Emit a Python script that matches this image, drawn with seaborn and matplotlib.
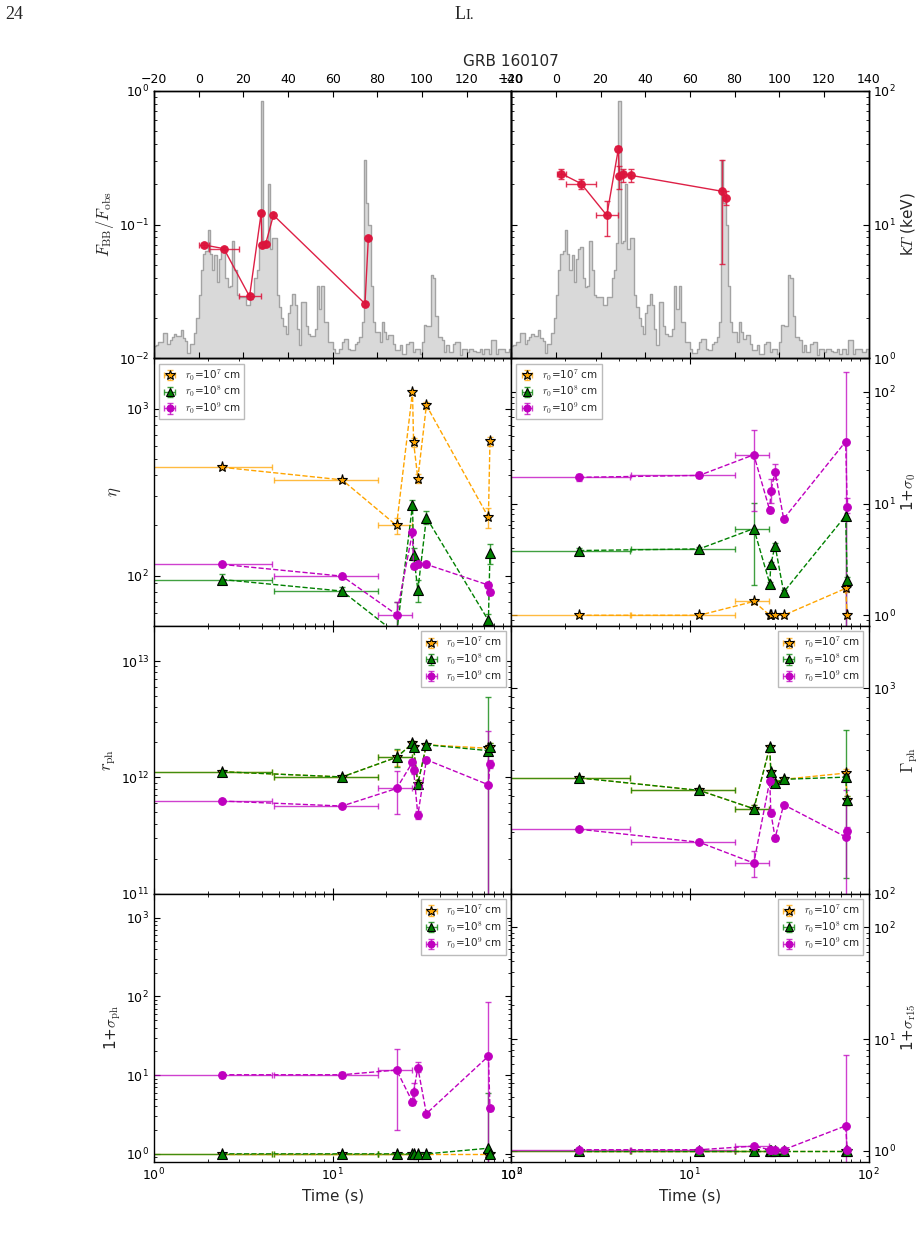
import numpy as np
import pandas as pd
import matplotlib
matplotlib.use("Agg")
import matplotlib.pyplot as plt
import matplotlib.lines as mlines
from matplotlib.ticker import MultipleLocator, NullFormatter
import seaborn as sns

# ---------------- data ----------------
# time bins (s): centres and bin edges
t_mid = [2.4, 11.3, 22.8, 28.0, 28.4, 30.0, 33.5, 74.5, 76.0]
t_lo = [0.3, 4.7, 18.0, 27.8, 28.2, 29.7, 33.2, 74.3, 75.8]
t_hi = [4.6, 18.0, 27.8, 28.2, 28.6, 30.3, 33.8, 74.7, 76.2]

# light curve (arbitrary units, 1 s bins from -20 s to 140 s)
lc_start, lc_stop = -20, 140
lc_counts = [
    0.045, 0.05, 0.06, 0.06, 0.095, 0.095, 0.055, 0.07, 0.08, 0.092,
    0.085, 0.085, 0.105, 0.075, 0.065, 0.02, 0.055, 0.055, 0.095, 0.15,
    0.235, 0.33, 0.39, 0.40, 0.478, 0.39, 0.33, 0.385, 0.285, 0.37,
    0.41, 0.415, 0.30, 0.265, 0.27, 0.44, 0.33, 0.235, 0.23, 0.23,
    0.23, 0.20, 0.20, 0.23, 0.23, 0.30, 0.33, 0.43, 0.96, 0.43,
    0.44, 0.65, 0.41, 0.45, 0.45, 0.235, 0.19, 0.15, 0.12, 0.09,
    0.17, 0.20, 0.24, 0.20, 0.11, 0.05, 0.21, 0.21, 0.12, 0.09,
    0.085, 0.085, 0.11, 0.27, 0.185, 0.27, 0.135, 0.135, 0.06, 0.06,
    0.036, 0.02, 0.02, 0.036, 0.06, 0.073, 0.073, 0.036, 0.03, 0.03,
    0.055, 0.06, 0.08, 0.135, 0.74, 0.58, 0.50, 0.27, 0.135, 0.10,
    0.10, 0.06, 0.135, 0.10, 0.073, 0.086, 0.086, 0.055, 0.03, 0.03,
    0.049, 0.017, 0.017, 0.055, 0.06, 0.06, 0.024, 0.036, 0.036, 0.017,
    0.06, 0.126, 0.12, 0.12, 0.31, 0.30, 0.16, 0.08, 0.08, 0.067,
    0.024, 0.049, 0.024, 0.024, 0.055, 0.06, 0.06, 0.011, 0.036, 0.036,
    0.024, 0.034, 0.034, 0.026, 0.024, 0.024, 0.036, 0.017, 0.036, 0.036,
    0.017, 0.067, 0.067, 0.017, 0.036, 0.036, 0.036, 0.024, 0.024, 0.036,
]

# F_BB / F_obs
fbb = [0.0704, 0.066, 0.029, 0.122, 0.0708, 0.0716, 0.1175, 0.0256, 0.0794]
fbb_lo = [0.0680, 0.0640, 0.0280, 0.1180, 0.0685, 0.0692, 0.1135, 0.0247, 0.0768]
fbb_hi = [0.0728, 0.0680, 0.0300, 0.1260, 0.0731, 0.0740, 0.1215, 0.0265, 0.0820]

# kT (keV)
kT = [24.0, 20.2, 11.7, 36.9, 22.9, 24.0, 23.3, 17.7, 15.85]
kT_lo = [21.9, 18.3, 8.2, 35.5, 18.3, 20.7, 20.7, 5.07, 14.0]
kT_hi = [26.0, 21.9, 15.0, 38.5, 27.2, 26.0, 26.0, 30.5, 17.8]

# eta
eta7 = [446, 375, 200, 1259, 628, 382, 1047, 224, 637]
eta7_lo = [435, 366, 179, 1220, 590, 360, 990, 192, 595]
eta7_hi = [458, 385, 221, 1300, 665, 405, 1100, 253, 680]
eta8 = [95, 81, 45, 265, 134, 82, 223, 54, 136]
eta8_lo = [90, 77, 35, 250, 124, 70, 203, 48, 118]
eta8_hi = [102, 86, 70, 285, 146, 94, 245, 59, 156]
eta9 = [117, 99.5, 58.6, 182, 114, 117, 117, 88, 80]
eta9_lo = [113, 96, 45, 175, 110, 113, 113, 84, 77]
eta9_hi = [121, 103, 69.8, 189, 118, 121, 121, 92, 83]

# 1 + sigma_0
s07 = [1.0, 1.0, 1.33, 1.0, 1.0, 1.0, 1.0, 1.74, 1.0]
s07_lo = [0.98, 0.98, 1.26, 0.98, 0.98, 0.98, 0.98, 1.62, 0.95]
s07_hi = [1.02, 1.02, 1.40, 1.02, 1.02, 1.02, 1.02, 1.86, 1.05]
s08 = [3.8, 3.93, 5.98, 1.92, 2.86, 4.2, 1.61, 7.8, 2.05]
s08_lo = [3.6, 3.75, 1.87, 1.85, 2.7, 4.0, 1.55, 0.5, 1.9]
s08_hi = [4.0, 4.1, 10.1, 2.0, 3.0, 4.4, 1.68, 9.0, 2.2]
s09 = [17.2, 17.9, 27.4, 8.7, 13.0, 19.3, 7.3, 36.0, 9.4]
s09_lo = [16.0, 16.8, 8.55, 8.3, 10.1, 16.7, 7.0, 0.5, 8.2]
s09_hi = [18.6, 19.0, 45.9, 9.1, 16.7, 22.7, 7.6, 151.0, 11.2]

# r_ph (cm)
rph7 = [1.12e12, 1.01e12, 1.49e12, 1.96e12, 1.81e12, 8.8e11, 1.91e12, 1.78e12, 1.84e12]
rph7_lo = [1.08e12, 0.98e12, 1.25e12, 1.88e12, 1.72e12, 8.2e11, 1.84e12, 1.68e12, 1.72e12]
rph7_hi = [1.16e12, 1.05e12, 1.72e12, 2.05e12, 1.90e12, 9.5e11, 1.98e12, 1.90e12, 1.96e12]
rph8 = [1.12e12, 1.01e12, 1.49e12, 1.96e12, 1.81e12, 8.8e11, 1.91e12, 1.70e12, 1.84e12]
rph8_lo = [1.08e12, 0.98e12, 1.22e12, 1.88e12, 1.72e12, 8.0e11, 1.84e12, 5e10, 1.70e12]
rph8_hi = [1.16e12, 1.05e12, 1.75e12, 2.05e12, 1.90e12, 9.6e11, 1.98e12, 4.9e12, 1.98e12]
rph9 = [6.27e11, 5.68e11, 8.04e11, 1.35e12, 1.16e12, 4.74e11, 1.42e12, 8.65e11, 1.30e12]
rph9_lo = [6.05e11, 5.5e11, 4.84e11, 1.28e12, 1.08e12, 4.4e11, 1.36e12, 5e10, 1.20e12]
rph9_hi = [6.5e11, 5.9e11, 1.14e12, 1.42e12, 1.24e12, 5.1e11, 1.50e12, 2.5e12, 1.42e12]

# Gamma_ph
gam7 = [366, 318, 259, 516, 389, 347, 360, 386, 285]
gam7_lo = [358, 310, 248, 505, 378, 338, 352, 370, 270]
gam7_hi = [374, 326, 270, 527, 400, 356, 368, 402, 300]
gam8 = [366, 318, 259, 516, 389, 347, 360, 369, 285]
gam8_lo = [358, 310, 248, 505, 378, 338, 352, 120, 270]
gam8_hi = [374, 326, 270, 527, 400, 356, 368, 622, 300]
gam9 = [206, 178, 141, 354, 248, 187, 271, 189, 203]
gam9_lo = [201, 174, 121, 345, 238, 181, 265, 90, 195]
gam9_hi = [211, 182, 161, 363, 258, 193, 277, 318, 211]

# 1 + sigma_ph
sph7 = [1.0, 1.0, 1.0, 1.0, 1.0, 1.0, 1.0, 1.0, 1.0]
sph7_lo = [0.98] * 9
sph7_hi = [1.02] * 9
sph8 = [1.0, 1.0, 1.0, 1.0, 1.0, 1.0, 1.0, 1.18, 1.0]
sph8_lo = [0.98, 0.98, 0.98, 0.98, 0.98, 0.98, 0.98, 0.5, 0.98]
sph8_hi = [1.02, 1.02, 1.02, 1.02, 1.02, 1.02, 1.02, 5.9, 1.02]
sph9 = [10.1, 10.1, 11.6, 4.55, 6.15, 12.4, 3.24, 17.4, 3.78]
sph9_lo = [9.3, 9.3, 2.0, 4.2, 4.7, 10.8, 3.1, 0.5, 3.5]
sph9_hi = [11.0, 11.0, 21.3, 4.9, 8.0, 14.6, 3.4, 84.8, 4.1]

# 1 + sigma_r15
sr7 = [1.0] * 9
sr7_lo = [0.99] * 9
sr7_hi = [1.01] * 9
sr8 = [1.0] * 9
sr8_lo = [0.99] * 9
sr8_hi = [1.01] * 9
sr9 = [1.02, 1.02, 1.10, 1.02, 1.02, 1.02, 1.02, 1.67, 1.02]
sr9_lo = [1.0, 1.0, 1.07, 1.0, 1.0, 1.0, 1.0, 0.5, 1.0]
sr9_hi = [1.04, 1.04, 1.13, 1.04, 1.04, 1.04, 1.04, 7.2, 1.04]

labels = [r"$r_0$=10$^7$ cm", r"$r_0$=10$^8$ cm", r"$r_0$=10$^9$ cm"]

# ---------------- style ----------------
sns.set_style("ticks")
plt.rcParams.update({
    "font.family": ["DejaVu Sans"],
    "mathtext.fontset": "cm",
    "axes.edgecolor": "black",
    "axes.linewidth": 1.0,
    "xtick.color": "black", "ytick.color": "black",
    "xtick.direction": "in", "ytick.direction": "in",
    "xtick.top": True, "ytick.right": True,
    "xtick.major.size": 4.5, "ytick.major.size": 4.5,
    "xtick.minor.size": 2.5, "ytick.minor.size": 2.5,
    "xtick.major.width": 0.8, "ytick.major.width": 0.8,
    "xtick.minor.width": 0.6, "ytick.minor.width": 0.6,
    "xtick.labelsize": 9, "ytick.labelsize": 9,
    "axes.labelsize": 11,
})

COL7, COL8, COL9 = "orange", "green", "m"
RED = "#DC143C"

fig = plt.figure(figsize=(9.21, 12.35), dpi=100)
gs = fig.add_gridspec(4, 2, left=0.1672, right=0.943, top=0.9266, bottom=0.0595,
                      hspace=0, wspace=0)
axes = [[fig.add_subplot(gs[r, c]) for c in range(2)] for r in range(4)]

t = np.asarray(t_mid)
xerr = [t - np.asarray(t_lo), np.asarray(t_hi) - t]


def series(ax, y, ylo, yhi, color, marker, ms, mec, ls="--", lw=1.0, alpha=0.75):
    y = np.asarray(y, float)
    yerr = [y - np.asarray(ylo, float), np.asarray(yhi, float) - y]
    eb = ax.errorbar(t, y, xerr=xerr, yerr=yerr, fmt="none", ecolor=color,
                     elinewidth=1.0, capsize=2.5, capthick=1.0, alpha=alpha, zorder=2)
    sns.lineplot(x=t_mid, y=y, ax=ax, color=color, linestyle=ls, linewidth=lw,
                 marker=marker, markersize=ms, markeredgecolor=mec,
                 markeredgewidth=0.8, sort=False, legend=False, zorder=3)
    proxy = mlines.Line2D([], [], color=color, marker=marker, markersize=ms,
                          markeredgecolor=mec, markeredgewidth=0.8, ls="none")
    return (eb, proxy)


# ---------------- top row ----------------
lc_df = pd.DataFrame({
    "time": np.arange(lc_start, lc_stop, 1.0) + 0.5,
    "counts": lc_counts,
})
for c, (vals, lo, hi, ylim, lab) in enumerate([
        (fbb, fbb_lo, fbb_hi, (0.01, 1.0), r"$F_{\rm BB}/F_{\rm obs}$"),
        (kT, kT_lo, kT_hi, (1.0, 100.0), r"k$T$ (keV)")]):
    ax = axes[0][c]
    hax = ax.twinx()
    sns.histplot(data=lc_df, x="time", weights="counts", bins=len(lc_counts),
                 binrange=(lc_start, lc_stop), element="step",
                 fill=True, color="#d9d9d9", edgecolor="#a3a3a3", alpha=1.0,
                 linewidth=1.0, ax=hax)
    hax.set_ylim(0, 1.0)
    hax.set_yticks([])
    hax.set_ylabel("")
    ax.set_zorder(hax.get_zorder() + 1)
    ax.patch.set_visible(False)
    ax.set_yscale("log")
    y = np.asarray(vals)
    yerr = [y - np.asarray(lo), np.asarray(hi) - y]
    ax.errorbar(t, y, xerr=xerr, yerr=yerr, fmt="none", ecolor=RED,
                elinewidth=1.0, capsize=2.5, alpha=0.85, zorder=2)
    sns.lineplot(x=t_mid, y=vals, ax=ax, color=RED, linewidth=1.0, marker="o",
                 markersize=5.5, markeredgecolor=RED, sort=False, legend=False,
                 zorder=3, alpha=0.95)
    ax.set_xlim(lc_start, lc_stop)
    hax.set_xlim(lc_start, lc_stop)
    ax.set_ylim(*ylim)
    ax.xaxis.set_major_locator(MultipleLocator(20))
    ax.tick_params(axis="x", which="both", labeltop=True, labelbottom=False,
                   top=True, bottom=True)
    ax.set_xlabel("")
    ax.set_ylabel(lab, fontsize=12 if c == 0 else 11, labelpad=2)
    if c == 1:
        ax.tick_params(axis="y", which="both", labelleft=False, labelright=True,
                       left=True, right=True)
        ax.yaxis.set_label_position("right")

# ---------------- lower rows ----------------
panels = [
    [((eta7, eta7_lo, eta7_hi), (eta8, eta8_lo, eta8_hi), (eta9, eta9_lo, eta9_hi),
      (50, 2000), r"$\eta$", "upper left"),
     ((s07, s07_lo, s07_hi), (s08, s08_lo, s08_hi), (s09, s09_lo, s09_hi),
      (0.8, 200), r"1+$\sigma_0$", "upper left")],
    [((rph7, rph7_lo, rph7_hi), (rph8, rph8_lo, rph8_hi), (rph9, rph9_lo, rph9_hi),
      (1e11, 2e13), r"$r_{\rm ph}$", "upper right"),
     ((gam7, gam7_lo, gam7_hi), (gam8, gam8_lo, gam8_hi), (gam9, gam9_lo, gam9_hi),
      (100, 2000), r"$\Gamma_{\rm ph}$", "upper right")],
    [((sph7, sph7_lo, sph7_hi), (sph8, sph8_lo, sph8_hi), (sph9, sph9_lo, sph9_hi),
      (0.8, 2000), r"1+$\sigma_{\rm ph}$", "upper right"),
     ((sr7, sr7_lo, sr7_hi), (sr8, sr8_lo, sr8_hi), (sr9, sr9_lo, sr9_hi),
      (0.8, 200), r"1+$\sigma_{\rm r15}$", "upper right")],
]

for r in range(3):
    for c in range(2):
        ax = axes[r + 1][c]
        s7, s8, s9, ylim, lab, loc = panels[r][c]
        ax.set_xscale("log")
        ax.set_yscale("log")
        h7 = series(ax, *s7, COL7, "*", 8, "black")
        h8 = series(ax, *s8, COL8, "^", 7, "black")
        h9 = series(ax, *s9, COL9, "o", 5.5, COL9)
        ax.set_xlim(1, 100)
        ax.set_ylim(*ylim)
        ax.yaxis.set_minor_formatter(NullFormatter())
        ax.set_ylabel(lab, fontsize=12 if lab.startswith("$") else 11,
                      labelpad=2)
        ax.tick_params(axis="x", which="both", top=True, bottom=True,
                       labelbottom=(r == 2))
        if r == 2:
            ax.set_xlabel("Time (s)", fontsize=11)
        else:
            ax.set_xlabel("")
        if c == 1:
            ax.tick_params(axis="y", which="both", labelleft=False,
                           labelright=True, left=True, right=True)
            ax.yaxis.set_label_position("right")
        leg = ax.legend([h7, h8, h9], labels, loc=loc, fontsize=7.5,
                        frameon=True, fancybox=False, edgecolor="#bbbbbb",
                        framealpha=1.0, handlelength=1.3, borderpad=0.35,
                        labelspacing=0.12, handletextpad=0.8, markerscale=0.9)
        leg.get_frame().set_linewidth(1.0)

for ax in (axes[0][0], axes[0][1]):
    ax.yaxis.set_minor_formatter(NullFormatter())

# ---------------- page text ----------------
fig.text(0.555, 0.950, "GRB 160107", ha="center", va="center", fontsize=11)
fig.text(0.006, 0.988, "24", ha="left", va="center", fontsize=13,
         family="Liberation Serif")
fig.text(0.505, 0.988, "L", ha="right", va="center", fontsize=13,
         family="Liberation Serif")
fig.text(0.505, 0.9875, "I.", ha="left", va="center", fontsize=10.5,
         family="Liberation Serif")

fig.savefig("out.png", dpi=100)
